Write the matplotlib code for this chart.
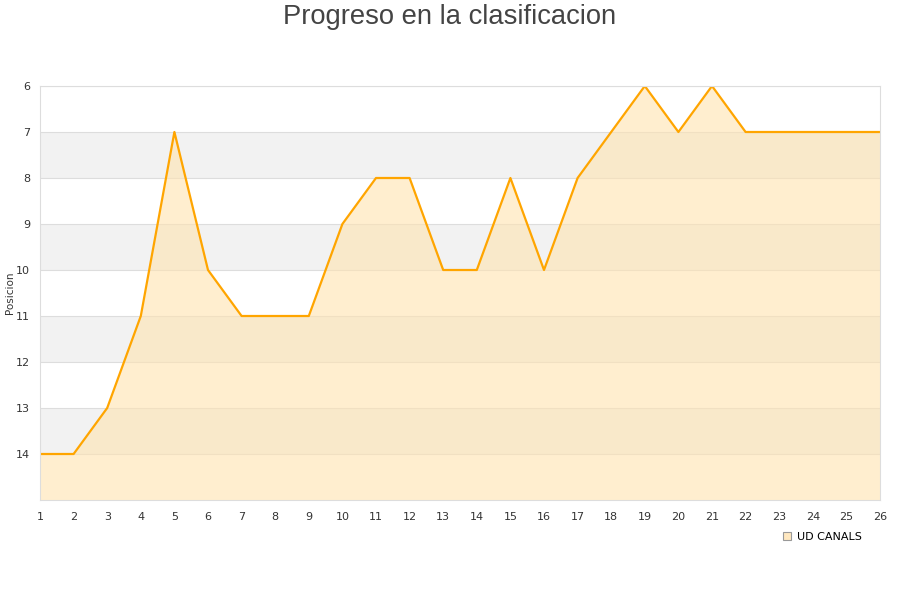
import matplotlib.pyplot as plt
from matplotlib.lines import Line2D

# Data
jornadas = list(range(1, 27))
posicion = [14, 14, 13, 11, 7, 10, 11, 11, 11, 9, 8, 8, 10, 10, 8, 10, 8, 7, 6, 7, 6, 7, 7, 7, 7, 7]
equipo = "UD CANALS"

fig = plt.figure(figsize=(9, 6), dpi=100)
ax = fig.add_axes([40 / 900, 100 / 600, 840 / 900, 414 / 600])

# alternating bands
for lo in range(6, 15):
    if lo % 2 == 1:
        ax.axhspan(lo, lo + 1, color="#f2f2f2", zorder=0, lw=0)
    ax.axhline(lo, color="#dddddd", lw=0.8, zorder=0.5)

ax.fill_between(jornadas, posicion, 15, color="#ffe3b0", alpha=0.6, lw=0, zorder=1)
ax.plot(jornadas, posicion, color="#ffa500", lw=1.6, zorder=2)

ax.set_xlim(1, 26)
ax.set_ylim(15, 6)
ax.set_xticks(jornadas)
ax.set_yticks(range(6, 15))
ax.tick_params(length=0, labelsize=8, colors="#333333")
ax.tick_params(axis="x", pad=9)
ax.tick_params(axis="y", pad=7)
for s in ax.spines.values():
    s.set_color("#dddddd")

fig.text(10 / 900, 1 - 293 / 600, "Posicion", rotation=90, fontsize=7.5,
         color="#333333", ha="center", va="center")
fig.text(0.5, 1 - 17 / 600, "Progreso en la clasificacion", fontsize=19.7,
         color="#444444", ha="center", va="center", family="Liberation Sans")

handle = Line2D([], [], marker="s", ls="none", markersize=6,
                markerfacecolor="#ffe8c0", markeredgecolor="#999999", markeredgewidth=0.8)
fig.legend([handle], [equipo], loc="center", bbox_to_anchor=(822 / 900, 1 - 537 / 600),
           frameon=False, fontsize=8, handletextpad=0.4, handlelength=1)

fig.savefig("out.png", dpi=100)
